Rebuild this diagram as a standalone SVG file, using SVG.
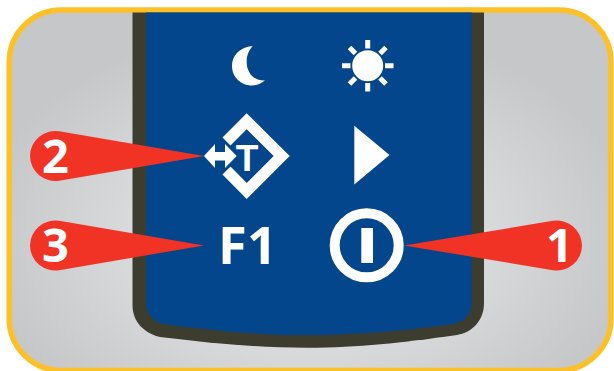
<svg xmlns="http://www.w3.org/2000/svg" width="614" height="371" viewBox="0 0 614 371">
<style>
.w{fill:#fff}
.r{fill:#f13326}
.n{font-family:"Open Sans","Liberation Sans",sans-serif;font-weight:700;fill:#fff;text-anchor:middle}
.t{font-family:"Liberation Sans",sans-serif;font-weight:700;fill:#fff;text-anchor:middle}
.ray{stroke:#fff;stroke-width:5;fill:none}
</style>
<defs>
<radialGradient id="bg" gradientUnits="userSpaceOnUse" cx="0" cy="0" r="1" gradientTransform="translate(307 235) scale(330 215)">
<stop offset="0" stop-color="#dcddde"/>
<stop offset="0.55" stop-color="#d8d9db"/>
<stop offset="1" stop-color="#c6c7c9"/>
</radialGradient>
</defs>
<rect width="614" height="371" fill="#fff"/>
<g id="frame"><rect x="9.2" y="10" width="601.8" height="360.5" rx="52" fill="url(#bg)" stroke="#fdc127" stroke-width="5.5"/></g>
<g id="device">
<path d="M132.5 12.5H484V303C484 320 473 332 457 335C400 343 360 347.7 307 347.7C255 347.700 210 343 160 337C144 333 132.500 322 132.500 305Z" fill="#3d3d2f"/>
<path d="M146 12.500H471.700V303C471.700 314 464 322 453 324C400 331 360 335 307 335C255 335 215 331 163 324C153 321 146 314 146 303Z" fill="#03468c"/>
</g>
<g id="moon"><path class="w" d="M252.700 46C239 47 232 56 232 66C232 77 241 85.500 252 85.500C257 85.500 261 83.500 265 80.500C254 81 246.700 73 246.700 62C246.700 55 249 50 252.700 46Z"/></g>
<g id="sun">
<circle class="w" cx="367.700" cy="65.700" r="15.500"/>
<path class="ray" d="M367.700 40V48.500M367.700 83V91.500M342 65.700H350.500M385 65.700H393.500M349.500 47.500L355.500 53.500M380 78L386 84M386 47.500L380 53.500M355.500 78L349.500 84"/>
</g>
<g id="tare">
<path d="M226.500 141.500L246.700 121.300L281.700 156L246.700 191L226.500 170.500" fill="none" stroke="#fff" stroke-width="11.300"/>
<path class="w" d="M204 156L215 144V152H225V144L236.700 156L225 168V160.500H215V168Z"/>
<text class="t" x="247" y="170.700" font-size="37">T</text>
</g>
<g id="play"><path class="w" d="M354.300 125.700L389.500 155L354.300 184.500Z"/></g>
<g id="f1"><text class="n" x="247.500" y="264.300" font-size="52.500">F1</text></g>
<g id="power">
<circle cx="366.700" cy="245.300" r="32" fill="none" stroke="#fff" stroke-width="10"/>
<rect class="w" x="361.300" y="228" width="11.700" height="35"/>
</g>
<g id="callouts">
<g id="callout-2"><path class="r" d="M204 156L59.200 180.650A25 25 0 1 1 59.200 131.350Z"/><text class="n" x="55.500" y="172.700" font-size="47">2</text></g>
<g id="callout-3"><path class="r" d="M204 245.500L59.200 270.150A25 25 0 1 1 59.200 220.850Z"/><text class="n" x="55.500" y="262" font-size="47">3</text></g>
<g id="callout-1"><path class="r" d="M404 245.500L552.800 270.150A25 25 0 1 0 552.800 220.850Z"/><text class="n" x="559.500" y="262" font-size="47">1</text></g>
</g>
</svg>
